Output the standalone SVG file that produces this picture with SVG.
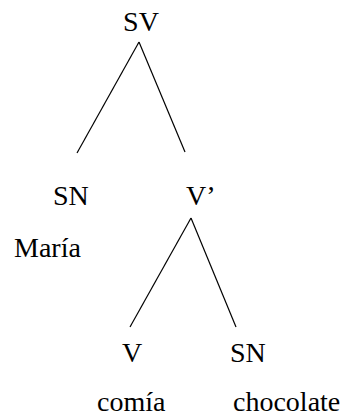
<svg xmlns="http://www.w3.org/2000/svg" width="348" height="416" viewBox="0 0 348 416">
<style>
.e{stroke:#000;stroke-width:1.2;fill:none}
.t{font-family:'Liberation Serif','Noto Serif','DejaVu Serif',FreeSerif,Tinos,'Times New Roman',Times,serif;font-size:28px;fill:#000}
</style>
<rect width="348" height="416" fill="#fff"/>
<g id="connectors">
<line class="e" x1="139" y1="42" x2="77" y2="153"/>
<line class="e" x1="139" y1="42" x2="185" y2="152"/>
<line class="e" x1="191" y1="218" x2="130" y2="327"/>
<line class="e" x1="191" y1="218" x2="236" y2="327"/>
</g>
<g id="sv"><text class="t" x="141" y="31" text-anchor="middle">SV</text></g>
<g id="sn1"><text class="t" x="53" y="205">SN</text></g>
<g id="vbar"><text class="t" x="186" y="205">V’</text></g>
<g id="maria"><text class="t" x="14" y="257">María</text></g>
<g id="v"><text class="t" x="122" y="362">V</text></g>
<g id="sn2"><text class="t" x="230" y="362">SN</text></g>
<g id="comia"><text class="t" x="97" y="411">comía</text></g>
<g id="chocolate"><text class="t" x="233" y="411">chocolate</text></g>
</svg>
